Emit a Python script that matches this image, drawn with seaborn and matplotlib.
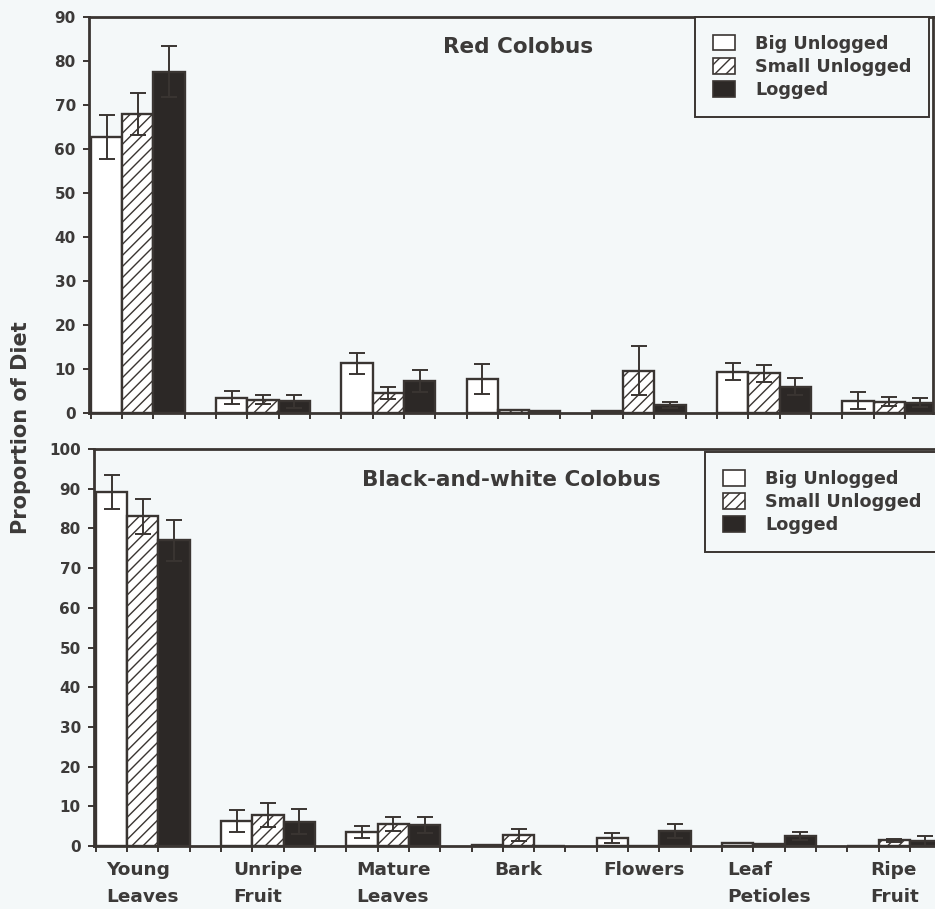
import numpy as np
import pandas as pd
import matplotlib
matplotlib.use("Agg")
import matplotlib.pyplot as plt
from matplotlib.patches import Patch
from matplotlib.ticker import FixedLocator, MultipleLocator
import seaborn as sns

# Diet composition (% of feeding records) by food item and forest type
categories = ["Young\nLeaves", "Unripe\nFruit", "Mature\nLeaves", "Bark",
              "Flowers", "Leaf\nPetioles", "Ripe\nFruit"]
zones = ["Big Unlogged", "Small Unlogged", "Logged"]

# Red colobus
red_big = [62.7, 3.5, 11.3, 7.7, 0.5, 9.4, 2.8]
red_big_err = [5.0, 1.4, 2.4, 3.4, 0.0, 2.0, 1.9]
red_small = [68.0, 3.0, 4.6, 0.7, 9.6, 9.0, 2.6]
red_small_err = [4.8, 1.0, 1.4, 0.0, 5.6, 1.9, 1.0]
red_logged = [77.6, 2.7, 7.3, 0.35, 1.9, 6.0, 2.3]
red_logged_err = [5.8, 1.5, 2.5, 0.0, 0.7, 1.9, 1.0]

# Black-and-white colobus
bw_big = [89.2, 6.3, 3.5, 0.3, 2.0, 0.8, 0.0]
bw_big_err = [4.2, 2.7, 1.6, 0.0, 1.3, 0.0, 0.0]
bw_small = [83.0, 7.8, 5.5, 2.8, 0.0, 0.5, 1.4]
bw_small_err = [4.3, 3.0, 1.7, 1.5, 0.0, 0.0, 0.4]
bw_logged = [77.0, 6.1, 5.3, 0.0, 3.7, 2.5, 1.2]
bw_logged_err = [5.1, 3.2, 1.9, 0.0, 1.8, 1.0, 1.3]

BG = "#f4f8f9"
DARK = "#2c2826"
LINE = "#3a3532"
TEXT = "#3c3a39"

sns.set_theme(style="white")
plt.rcParams.update({
    "font.family": ["DejaVu Sans"],
    "hatch.color": LINE,
    "hatch.linewidth": 1.0,
    "axes.edgecolor": LINE,
    "text.color": TEXT,
    "xtick.color": LINE,
    "ytick.color": LINE,
    "xtick.labelcolor": TEXT,
    "ytick.labelcolor": TEXT,
})

palette = {"Big Unlogged": "white", "Small Unlogged": "white", "Logged": DARK}


def long_frame(big, small, logged):
    rows = []
    for vals, zone in zip((big, small, logged), zones):
        for cat, v in zip(categories, vals):
            rows.append({"food": cat, "zone": zone, "value": v})
    return pd.DataFrame(rows)


def draw_panel(ax, big, small, logged, errs, title, ymax, title_xy, legend_xy, show_labels):
    df = long_frame(big, small, logged)
    sns.barplot(data=df, x="food", y="value", hue="zone", order=categories,
                hue_order=zones, palette=palette, saturation=1, width=0.75,
                errorbar=None, edgecolor=LINE, linewidth=1.7, legend=False,
                ax=ax, zorder=2)
    # hatch the small-unlogged bars
    for bar in ax.containers[1]:
        bar.set_hatch("///")
    # standard errors on top of each bar
    for cont, vals, err in zip(ax.containers, (big, small, logged), errs):
        xs = np.array([b.get_x() + b.get_width() / 2 for b in cont])
        v = np.array(vals)
        e = np.array(err)
        m = e > 0
        ax.errorbar(xs[m], v[m], yerr=e[m], fmt="none", ecolor=LINE,
                    elinewidth=1.4, capsize=6, capthick=1.4, zorder=3)

    ax.set_facecolor(BG)
    ax.set_xlim(-0.39, 6.35)
    ax.set_ylim(0, ymax)
    ax.yaxis.set_major_locator(MultipleLocator(10))
    ax.set_ylabel("")
    ax.set_xlabel("")
    for s in ax.spines.values():
        s.set_linewidth(2.0)
        s.set_color(LINE)
        s.set_zorder(4)

    # category ticks at group centres, short marks at bar edges
    ax.xaxis.set_major_locator(FixedLocator(np.arange(len(categories))))
    edges = np.concatenate([np.arange(len(categories)) + off for off in (-0.375, -0.125, 0.125, 0.375)])
    ax.xaxis.set_minor_locator(FixedLocator(np.sort(edges)))
    if show_labels:
        ax.set_xticklabels(categories, fontsize=13.3, fontweight="bold",
                           linespacing=1.65)
        for lbl in ax.get_xticklabels():
            lbl.set_multialignment("left")
    else:
        ax.set_xticklabels([])
    ax.tick_params(axis="x", which="major", length=0, pad=11)
    ax.tick_params(axis="x", which="minor", length=4.5, width=1.4, direction="out", bottom=True)
    ax.tick_params(axis="y", which="major", length=4.5, width=1.4, direction="out", left=True,
                   pad=5, labelsize=11)
    for lbl in ax.get_yticklabels():
        lbl.set_fontweight("bold")

    ax.text(title_xy[0], title_xy[1], title, transform=ax.transAxes,
            ha="center", va="center", fontsize=15.5, fontweight="bold", color=TEXT)

    handles = [Patch(facecolor=palette[z], edgecolor=LINE, linewidth=1.2,
                     hatch="///" if z == "Small Unlogged" else None) for z in zones]
    leg = ax.legend(handles, zones, loc="upper left", bbox_to_anchor=legend_xy,
                    frameon=True, fancybox=False, shadow=False,
                    prop={"weight": "bold", "size": 12.7},
                    handlelength=1.25, handleheight=1.0, handletextpad=1.15,
                    labelspacing=0.3, borderpad=1.0, borderaxespad=0,
                    framealpha=1)
    leg.get_frame().set_edgecolor(LINE)
    leg.get_frame().set_linewidth(1.4)
    leg.get_frame().set_facecolor(BG)
    leg.set_zorder(5)


W, H = 935, 909
fig = plt.figure(figsize=(W / 100, H / 100), dpi=100, facecolor=BG)

ax_top = fig.add_axes([89 / W, 1 - 413 / H, 844 / W, 396 / H])
ax_bot = fig.add_axes([94 / W, 1 - 846 / H, 844 / W, 397 / H])

draw_panel(ax_top, red_big, red_small, red_logged,
           (red_big_err, red_small_err, red_logged_err),
           "Red Colobus", 90, (0.508, 0.924), (0.718, 1.0), False)
draw_panel(ax_bot, bw_big, bw_small, bw_logged,
           (bw_big_err, bw_small_err, bw_logged_err),
           "Black-and-white Colobus", 100, (0.495, 0.922), (0.724, 0.992), True)

fig.text(21 / W, 1 - 428 / H, "Proportion of Diet", rotation=90, ha="center",
         va="center", fontsize=15, fontweight="bold", color=TEXT)

fig.savefig("out.png", dpi=100, facecolor=BG)
